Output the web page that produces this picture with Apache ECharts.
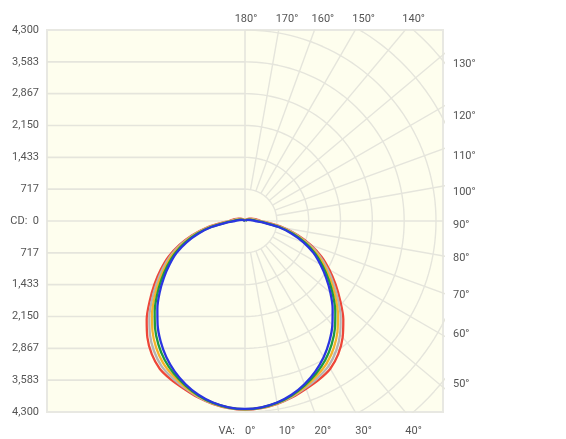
<!DOCTYPE html>
<html><head><meta charset="utf-8">
<script src="https://cdn.jsdelivr.net/npm/echarts@6/dist/echarts.min.js"></script>
<style>html,body{margin:0;padding:0;background:#fff}#c{width:566px;height:439px}</style>
</head><body><div id="c"></div>
<script>
// vertical angles (deg from nadir) and candela values per plane
const angles   = [0,5,10,15,20,25,30,35,40,45,50,55,60,65,70,75,80,85,90,95,100,110,120,130,140,150,160,170,180];
const blueCd   = [4230,4210,4150,4050,3910,3740,3540,3310,3060,2790,2510,2230,1960,1700,1400,1080,750,420,230,170,130,70,35,15,6,2,0,0,0];
const greenCd  = [4235,4215,4158,4065,3938,3790,3615,3398,3150,2875,2583,2295,2018,1750,1443,1118,783,453,263,200,158,93,53,28,15,7,3,1,0];
const orangeCd = [4240,4220,4165,4080,3965,3840,3690,3485,3240,2960,2655,2360,2075,1800,1485,1155,815,485,295,230,185,115,70,40,24,12,5,3,0];
const grayCd   = [4245,4225,4173,4095,3993,3890,3765,3573,3330,3045,2728,2425,2133,1850,1528,1193,848,518,328,260,213,138,88,53,32,17,8,4,0];
const redCd    = [4250,4230,4180,4110,4020,3940,3840,3660,3420,3130,2800,2490,2190,1900,1570,1230,880,550,360,290,240,160,105,65,41,22,10,5,0];

const cdTickLabels = ['CD:  0','717','1,433','2,150','2,867','3,583','4,300'];
const topAngleLabels = [180,170,160,150,140];
const rightAngleLabels = [130,120,110,100,90,80,70,60,50];
const bottomAngleLabels = [0,10,20,30,40];

const CD_MAX = 4300;
const STEP = CD_MAX / 6;
const X_MAX = CD_MAX * 198 / 191;
const R = Math.PI / 180;
const GRID_COLOR = '#e5e5dc';
const TEXT_COLOR = '#555';
const FONT = 'Roboto, "Noto Sans", sans-serif';

const series = [];
function gridLine(data, w) {
  series.push({type:'line', data, symbol:'none', silent:true, animation:false,
    lineStyle:{color:GRID_COLOR, width:w || 1.4}, clip:true, z:1});
}
// left half horizontal lines
for (let k = -5; k <= 5; k++) {
  if (k === 0) continue;
  gridLine([[-X_MAX, k*STEP],[0, k*STEP]], 1.6);
}
gridLine([[-X_MAX, 0],[X_MAX, 0]], 1.6);
gridLine([[0, -CD_MAX],[0, CD_MAX]], 1.6);
// right half rings
for (let k = 1; k <= 9; k++) {
  const r = k*STEP, d = [];
  for (let a = 0; a <= 180; a += 2) d.push([r*Math.sin(a*R), -r*Math.cos(a*R)]);
  gridLine(d);
}
// radial lines
for (let a = 10; a <= 170; a += 10) {
  if (a === 90) continue;
  const r0 = STEP, r1 = 12000;
  gridLine([[r0*Math.sin(a*R), -r0*Math.cos(a*R)],[r1*Math.sin(a*R), -r1*Math.cos(a*R)]]);
}

function curve(vals, color) {
  const d = [];
  for (let i = angles.length - 1; i >= 0; i--) d.push([-vals[i]*Math.sin(angles[i]*R), -vals[i]*Math.cos(angles[i]*R)]);
  for (let i = 1; i < angles.length; i++) d.push([vals[i]*Math.sin(angles[i]*R), -vals[i]*Math.cos(angles[i]*R)]);
  series.push({type:'line', data:d, symbol:'none', smooth:0.3, silent:true, animation:false,
    lineStyle:{color, width:2.3}, z:5});
}
curve(redCd, '#ee4638');
curve(grayCd, '#b4b4b4');
curve(orangeCd, '#f5b32a');
curve(greenCd, '#1f9a40');
curve(blueCd, '#2a35e0');

const option = {
  backgroundColor:'#ffffff',
  animation:false,
  grid:{left:47, top:30, width:396, height:382, show:true, backgroundColor:'#fefeee', borderColor:'#e8e8e2', borderWidth:2},
  xAxis:{type:'value', min:-X_MAX, max:X_MAX, show:false},
  yAxis:{type:'value', min:-CD_MAX, max:CD_MAX, interval:STEP,
    axisLine:{show:false}, axisTick:{show:false}, splitLine:{show:false},
    axisLabel:{margin:8, color:TEXT_COLOR, fontSize:11, fontFamily:FONT,
      formatter: v => cdTickLabels[Math.round(Math.abs(v)/STEP)]}},
  series
};
const chart = echarts.init(document.getElementById('c'));
chart.setOption(option);

const px = (x, y) => chart.convertToPixel({gridIndex:0}, [x, y]);
const txt = (x, y, text, align) => ({type:'text', x, y, silent:true,
  style:{text, fill:TEXT_COLOR, fontSize:11, fontFamily:FONT, align:align||'left', verticalAlign:'middle'}});
const g = [];
bottomAngleLabels.forEach(a => {
  const p = px(CD_MAX*Math.tan(a*R), -CD_MAX);
  g.push(txt(p[0], p[1] + 19, a + '°'));
});
const p0 = px(0, -CD_MAX);
g.push(txt(p0[0] - 10, p0[1] + 19, 'VA:', 'right'));
topAngleLabels.forEach(a => {
  const p = px(CD_MAX*Math.tan((180 - a)*R), CD_MAX);
  if (a === 180) g.push(txt(p[0] + 1, p[1] - 11, a + '°', 'center'));
  else g.push(txt(p[0] - 3, p[1] - 11, a + '°'));
});
const rightNudge = [9, 10, 7, 6, 4, 2, 2, -1, -3];
rightAngleLabels.forEach((a, i) => {
  const p = px(X_MAX, -X_MAX/Math.tan(a*R));
  g.push(txt(p[0] + 10, p[1] + rightNudge[i], a + '°'));
});
chart.setOption({graphic:g});
</script></body></html>
